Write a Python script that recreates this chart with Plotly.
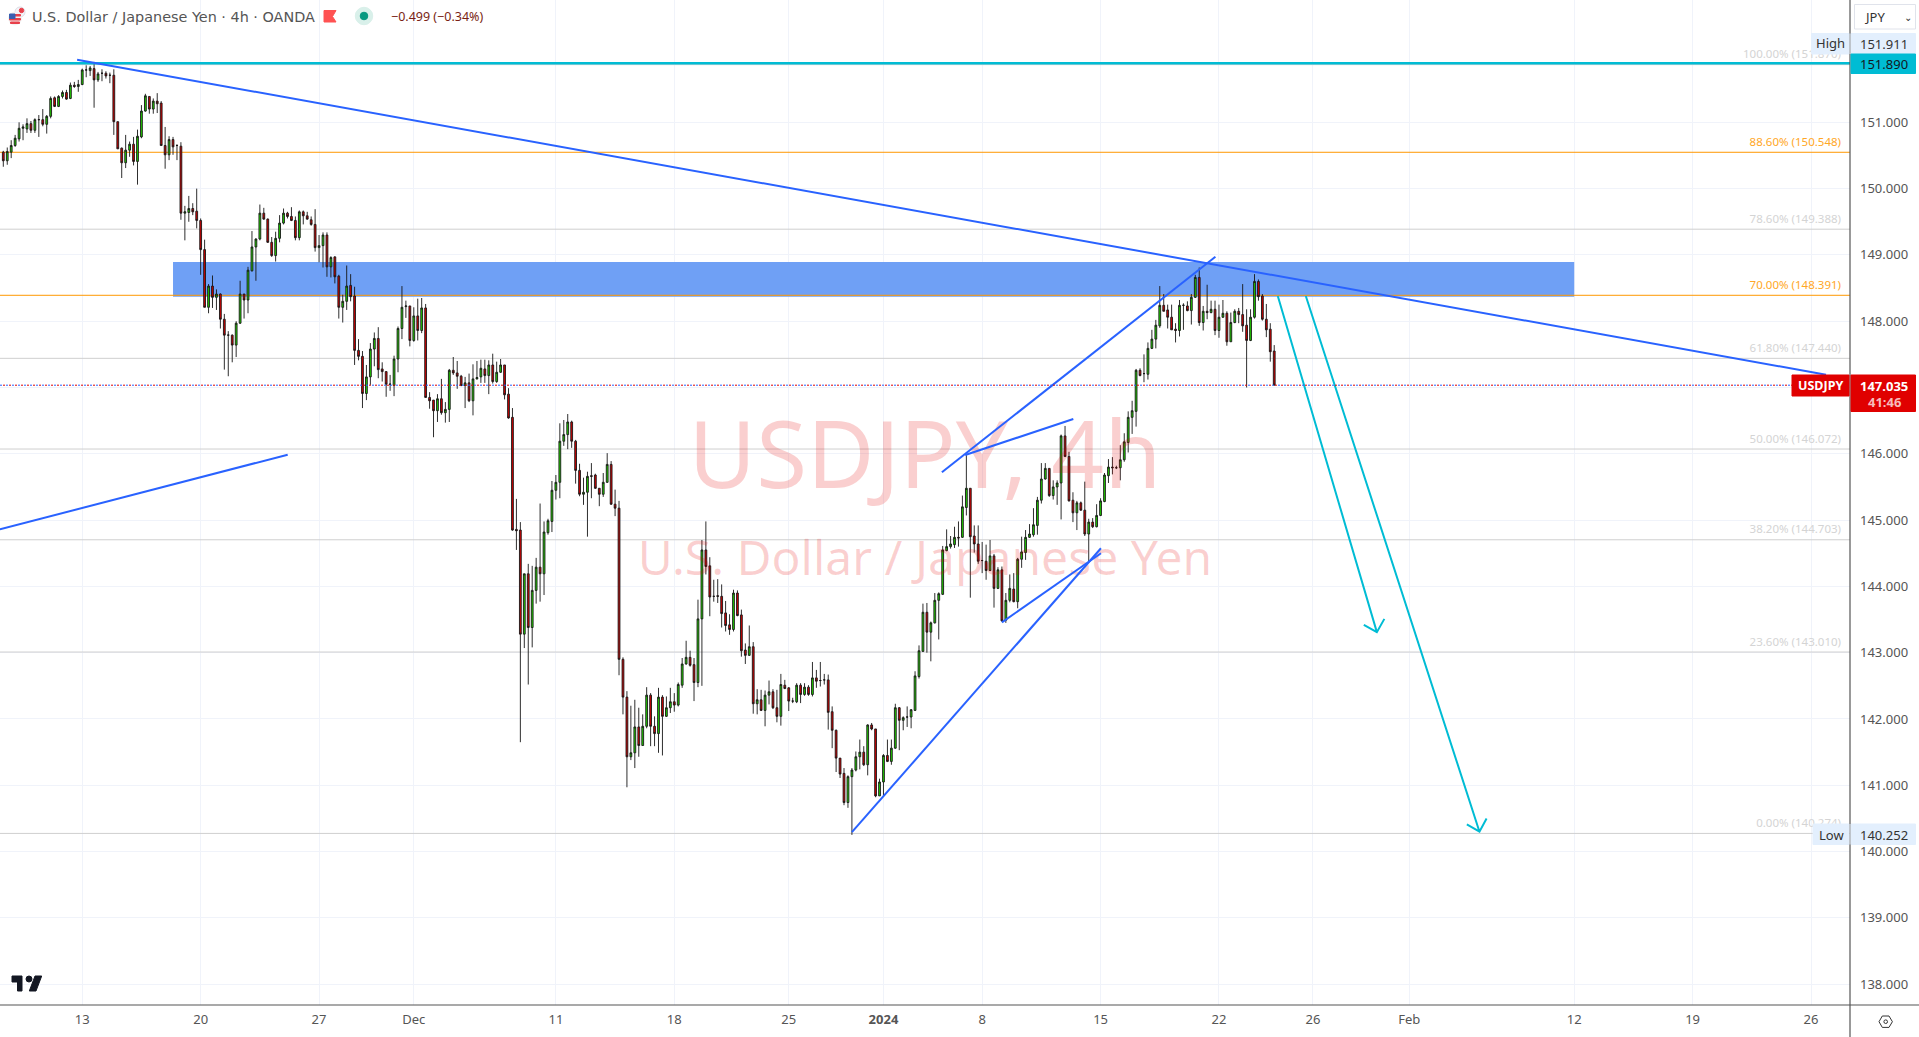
import plotly.graph_objects as go

# ---------- data ----------
open_ = [150.55,150.42,150.55,150.65,150.75,150.91,150.90,150.98,150.88,151.04,151.04,150.97,151.09,151.37,151.24,151.39,151.45,151.36,151.56,151.54,
151.57,151.79,151.78,151.81,151.64,151.74,151.74,151.71,151.71,151.01,150.61,150.39,150.58,150.67,150.41,150.78,151.17,151.39,151.20,151.32,
151.29,150.65,150.51,150.74,150.65,150.64,149.63,149.64,149.70,149.66,149.52,149.08,148.21,148.53,148.36,148.41,148.03,147.79,147.79,147.64,
147.97,148.41,148.32,148.76,149.12,149.24,149.63,149.54,149.19,148.99,149.25,149.48,149.63,149.58,149.52,149.26,149.65,149.59,149.53,149.46,
149.11,149.14,149.30,148.82,148.97,148.68,148.21,148.30,148.54,148.38,147.56,147.47,146.91,147.16,147.58,147.74,147.28,147.24,147.05,147.03,
147.43,147.89,148.22,148.23,147.71,148.08,147.86,148.20,146.85,146.81,146.65,146.83,146.62,146.67,147.26,147.22,147.17,147.03,147.07,146.80,
147.13,147.16,147.28,147.18,147.34,147.09,147.23,147.34,146.90,146.55,144.86,144.85,143.28,144.19,143.38,143.94,144.29,144.19,144.81,144.98,
145.45,145.57,146.19,146.29,146.48,146.19,145.75,145.39,145.42,145.67,145.68,145.48,145.39,145.57,145.84,145.24,145.18,142.90,142.33,141.43,
141.49,141.88,141.60,141.89,142.36,141.89,141.78,142.33,142.04,142.17,142.26,142.21,142.51,142.83,142.93,142.82,142.55,143.51,144.55,144.31,
143.85,143.86,143.85,143.60,143.42,143.35,143.90,143.57,143.04,142.96,143.09,142.23,142.29,142.13,142.36,142.41,142.17,142.04,142.51,142.47,
142.27,142.26,142.51,142.37,142.48,142.37,142.62,142.58,142.59,142.59,142.11,141.83,141.41,141.18,140.74,141.13,141.23,141.43,141.50,141.31,
141.91,141.85,140.84,141.05,141.45,141.36,141.56,142.17,141.98,142.03,142.03,142.13,142.64,143.02,143.61,143.31,143.45,143.79,143.88,144.54,
144.60,144.63,144.74,144.74,145.19,145.48,144.76,144.64,144.39,144.38,144.24,144.46,143.97,144.25,143.49,143.79,143.96,143.77,144.41,144.51,
144.74,144.78,144.92,145.30,145.62,145.78,145.37,145.50,145.56,146.27,145.96,145.30,145.11,145.26,145.15,144.79,144.97,144.90,145.07,145.28,
145.67,145.80,145.79,145.79,145.91,146.17,146.55,146.64,147.26,147.21,147.20,147.59,147.73,147.93,148.24,148.17,148.06,147.88,147.86,148.24,
148.23,148.16,148.36,148.66,147.98,148.15,148.13,148.18,147.86,148.06,148.12,147.69,147.98,148.15,148.10,147.94,147.71,148.06,148.60,148.38,
148.03,147.88,147.55]
high = [150.57,150.62,150.73,150.81,151.00,150.97,151.06,151.02,151.06,151.11,151.20,151.11,151.39,151.39,151.41,151.48,151.49,151.60,151.61,151.64,
151.81,151.86,151.85,151.911,151.76,151.80,151.77,151.75,151.80,151.01,150.62,150.81,150.71,150.78,150.89,151.26,151.43,151.39,151.36,151.44,
151.32,150.93,150.79,150.78,150.67,150.70,149.74,149.89,149.78,150.00,149.55,149.23,148.56,148.69,148.48,148.42,148.11,147.85,147.80,148.00,
148.61,148.41,148.82,149.36,149.25,149.76,149.71,149.55,149.27,149.35,149.60,149.70,149.65,149.72,149.58,149.67,149.67,149.65,149.58,149.69,
149.30,149.34,149.34,148.98,148.98,148.70,148.40,148.84,148.71,148.52,147.73,147.55,147.34,147.67,147.83,147.91,147.38,147.24,147.19,147.48,
147.92,148.53,148.31,148.23,148.21,148.34,148.35,148.26,146.93,146.81,146.90,147.13,146.78,147.28,147.46,147.40,147.19,147.16,147.21,147.35,
147.40,147.42,147.42,147.41,147.51,147.39,147.43,147.34,146.99,146.69,145.32,144.97,144.19,144.34,144.31,144.43,145.25,144.98,145.02,145.59,
145.68,146.46,146.51,146.60,146.50,146.21,145.85,145.64,145.73,145.86,145.70,145.48,145.71,146.01,145.89,145.46,145.29,142.93,142.42,142.20,
142.29,142.17,142.07,142.48,142.39,142.04,142.47,142.36,142.34,142.47,142.39,142.55,142.92,143.18,143.03,142.92,143.80,144.70,144.98,144.44,
144.10,144.11,144.03,143.78,143.58,143.95,143.94,143.65,143.14,143.41,143.16,142.45,142.44,142.43,142.58,142.45,142.44,142.68,142.59,142.48,
142.32,142.54,142.54,142.54,142.51,142.86,142.74,142.86,142.68,142.67,142.19,141.84,141.41,141.26,141.15,141.26,141.51,141.69,141.59,141.92,
141.94,141.85,141.10,141.47,141.69,141.69,142.23,142.18,142.04,142.19,142.15,142.72,143.11,143.74,143.75,143.47,143.90,143.91,144.61,144.86,
144.76,144.90,144.98,145.37,145.98,145.48,144.92,144.92,144.67,144.63,144.70,144.49,144.29,144.30,143.90,144.18,144.20,144.43,144.75,144.85,
144.94,145.18,145.35,145.86,145.86,145.78,145.60,145.60,146.29,146.42,146.03,145.42,145.29,145.28,145.58,145.02,145.03,145.24,145.33,145.71,
145.92,145.95,145.82,146.13,146.31,146.64,146.80,147.28,147.29,147.50,147.68,147.87,148.02,148.53,148.41,148.25,148.25,147.97,148.32,148.27,
148.30,148.41,148.70,148.81,148.23,148.55,148.31,148.31,148.25,148.32,148.15,148.13,148.18,148.20,148.56,148.18,148.18,148.71,148.63,148.41,
148.26,147.97,147.64]
low = [150.33,150.36,150.46,150.63,150.71,150.73,150.84,150.84,150.84,150.78,150.94,150.83,151.06,151.23,151.23,151.36,151.34,151.35,151.52,151.46,
151.56,151.68,151.70,151.22,151.61,151.62,151.66,151.59,150.81,150.60,150.16,150.31,150.48,150.35,150.06,150.76,151.16,151.13,151.13,151.14,
150.65,150.30,150.43,150.51,150.43,149.53,149.22,149.50,149.60,149.40,148.70,148.21,148.12,148.20,148.17,147.89,147.27,147.17,147.38,147.46,
147.96,148.04,148.12,148.75,148.61,149.22,149.53,149.18,148.97,148.90,149.19,149.46,149.55,149.51,149.22,149.22,149.46,149.53,149.44,149.05,
148.89,148.81,148.67,148.66,148.57,148.04,147.98,148.17,148.30,147.34,147.41,146.69,146.81,147.04,147.32,147.14,147.09,146.86,146.95,146.87,
147.23,147.73,148.05,147.62,147.69,147.71,147.82,146.85,146.68,146.25,146.48,146.59,146.47,146.48,147.19,146.98,147.02,146.69,146.78,146.58,
147.12,147.07,147.07,146.90,147.06,147.07,147.22,146.82,146.53,144.84,144.55,141.65,143.07,142.52,143.08,143.74,143.77,143.87,144.78,144.82,
145.31,145.33,146.12,146.07,146.09,145.55,145.36,145.23,144.75,145.33,145.47,145.21,145.35,145.56,145.23,145.06,142.66,142.07,140.97,141.38,
141.26,141.43,141.60,141.86,141.59,141.59,141.49,141.45,142.03,142.09,142.11,142.19,142.47,142.82,142.79,142.27,142.48,142.50,144.18,143.55,
143.77,143.75,143.38,143.32,143.27,143.32,143.55,142.94,142.83,142.95,142.08,142.07,142.12,141.89,142.22,142.15,141.95,141.90,142.45,142.12,
142.24,142.24,142.24,142.35,142.35,142.34,142.47,142.49,142.52,141.84,141.56,141.20,141.11,140.70,140.66,140.252,141.21,141.24,141.29,141.15,
141.83,140.82,140.84,140.83,141.35,141.31,141.55,141.53,141.83,141.88,141.86,142.12,142.61,143.01,143.00,142.87,143.44,143.20,143.87,144.53,
144.57,144.58,144.60,144.73,145.07,143.83,144.51,144.34,144.20,144.10,144.23,143.68,143.96,143.47,143.45,143.76,143.76,143.67,144.28,144.40,
144.73,144.75,144.78,145.25,145.61,145.35,145.31,145.23,145.01,145.95,145.28,144.97,144.85,145.14,144.76,144.38,144.88,144.89,145.06,145.27,
145.56,145.69,145.77,145.60,145.88,146.02,146.30,146.41,147.17,147.08,147.12,147.58,147.59,147.90,148.15,147.89,147.87,147.68,147.77,147.87,
148.15,147.95,148.35,147.93,147.86,148.03,148.12,147.79,147.75,148.05,147.63,147.69,147.97,147.97,147.84,147.00,147.70,148.04,148.31,148.01,
147.76,147.39,147.035]
close = [150.42,150.56,150.65,150.76,150.91,150.93,150.98,150.88,151.04,151.04,150.97,151.09,151.36,151.24,151.39,151.45,151.35,151.56,151.54,151.57,
151.79,151.79,151.82,151.64,151.73,151.74,151.70,151.71,151.01,150.60,150.39,150.58,150.67,150.41,150.79,151.17,151.40,151.20,151.32,151.28,
150.65,150.51,150.74,150.63,150.65,149.63,149.65,149.70,149.65,149.52,149.08,148.21,148.53,148.36,148.41,148.03,147.79,147.79,147.64,147.97,
148.41,148.32,148.77,149.12,149.24,149.63,149.54,149.19,148.99,149.25,149.48,149.63,149.58,149.52,149.26,149.65,149.59,149.54,149.46,149.11,
149.14,149.30,148.82,148.96,148.67,148.21,148.30,148.53,148.37,147.56,147.47,146.91,147.16,147.58,147.74,147.27,147.24,147.05,147.05,147.43,
147.89,148.21,148.23,147.71,148.08,147.86,148.20,146.85,146.80,146.65,146.83,146.62,146.67,147.26,147.22,147.17,147.03,147.07,146.80,147.13,
147.15,147.29,147.18,147.34,147.09,147.23,147.34,146.89,146.54,144.85,144.84,143.28,144.19,143.38,143.94,144.29,144.19,144.82,144.99,145.45,
145.57,146.19,146.29,146.48,146.19,145.75,145.39,145.42,145.66,145.66,145.48,145.39,145.57,145.84,145.24,145.18,142.90,142.33,141.43,141.49,
141.88,141.60,141.89,142.36,141.89,141.78,142.33,142.04,142.17,142.26,142.21,142.52,142.83,142.93,142.81,142.55,143.51,144.55,144.30,143.84,
143.85,143.85,143.59,143.41,143.35,143.90,143.56,143.03,142.96,143.09,142.23,142.29,142.13,142.36,142.41,142.17,142.04,142.52,142.46,142.27,
142.27,142.51,142.37,142.48,142.37,142.62,142.57,142.58,142.59,142.10,141.83,141.41,141.17,140.74,141.13,141.23,141.43,141.50,141.31,141.91,
141.85,140.84,141.05,141.45,141.36,141.56,142.17,141.98,142.02,142.03,142.14,142.65,143.03,143.61,143.31,143.45,143.79,143.89,144.55,144.60,
144.64,144.74,144.73,145.20,145.48,144.75,144.64,144.38,144.39,144.24,144.46,143.97,144.25,143.48,143.79,143.97,143.77,144.41,144.52,144.74,
144.79,144.93,145.30,145.62,145.78,145.37,145.50,145.56,146.27,145.96,145.29,145.11,145.26,145.15,144.79,144.97,144.90,145.07,145.29,145.68,
145.80,145.79,145.79,145.91,146.18,146.55,146.65,147.26,147.18,147.21,147.59,147.73,147.94,148.24,148.15,148.06,147.87,147.86,148.24,148.24,
148.16,148.36,148.66,147.98,148.15,148.13,148.18,147.86,148.06,148.12,147.69,147.98,148.15,148.10,147.93,147.71,148.06,148.60,148.37,148.03,
147.87,147.54,147.035]

y_ticks = [138,139,140,141,142,143,144,145,146,147,148,149,150,151]
x_tick_bars = [20,50,80,104,140,170,199,223,248,278,308,331.8,356.2,398,428,458]
x_tick_text = ["13","20","27","Dec","11","18","25","<b>2024</b>","8","15","22","26","Feb","12","19","26"]

fib_levels = [151.870,150.548,149.388,148.391,147.440,146.072,144.703,143.010,140.274]
fib_pcts = ["100.00%","88.60%","78.60%","70.00%","61.80%","50.00%","38.20%","23.60%","0.00%"]

teal_level = 151.890
last_price = 147.035
zone_bars = [43.0, 398.0]
zone_prices = [148.37, 148.893]

trend_bars = [[18.7,461.8],[-0.84,72.05],[237.8,307.1],[243.7,271.1],[253.0,278.1],[215.0,278.1]]
trend_prices = [[151.944,147.193],[144.861,145.987],[145.721,148.973],[145.982,146.525],[143.458,144.5],[140.293,144.575]]
arrow_bars = [[322.9,348.0,344.7,348.0,349.9],[330.0,374.0,370.8,374.0,375.8]]
arrow_prices = [[148.38,143.31,143.42,143.31,143.51],[148.38,140.30,140.41,140.30,140.50]]

# ---------- layout constants ----------
W, H = 1919, 1037
PW, PH = 1850, 1005
BAR_PX = 3.947
X0_PX = 3.3
BLUE = "#2962ff"
TEAL = "#00bcd4"
FONT = "Noto Sans"
HEADER_FONT = "DejaVu Sans"
WM = "rgba(230,0,0,0.19)"
FIB_LABEL_LIFT = 0.055

def px(x): return x / PW
def py(y): return 1 - y / PH
def bar_at(x): return (x - X0_PX) / BAR_PX

def label(x, y, text, color="#555", size=13, xanchor="center", bold=False, family=FONT):
    return dict(xref="paper", yref="paper", x=px(x), y=py(y), text=f"<b>{text}</b>" if bold else text,
                showarrow=False, xanchor=xanchor, yanchor="middle", borderpad=0,
                font=dict(family=family, size=size, color=color))

def box(x0, y0, x1, y1, fill, line=None):
    return dict(type="rect", xref="paper", yref="paper", x0=px(x0), x1=px(x1), y0=py(y0), y1=py(y1),
                fillcolor=fill, line=dict(color=line or fill, width=1), layer="above")

def path_shape(points, fill, line=None):
    d = "M " + " L ".join(f"{px(a)},{py(b)}" for a, b in points) + " Z"
    return dict(type="path", xref="paper", yref="paper", path=d, fillcolor=fill,
                line=dict(color=line or fill, width=1), layer="above")

def circle(cx, cy, r, fill, line=None, width=1):
    return dict(type="circle", xref="paper", yref="paper", x0=px(cx-r), x1=px(cx+r), y0=py(cy+r), y1=py(cy-r),
                fillcolor=fill, line=dict(color=line or fill, width=width), layer="above")

fig = go.Figure()
n = len(close)
bars = list(range(n))
xr = [bar_at(0), bar_at(PW)]

fig.add_trace(go.Candlestick(x=bars, open=open_, high=high, low=low, close=close,
                             whiskerwidth=0, showlegend=False,
                             increasing=dict(line=dict(color="#161616", width=0.9), fillcolor="#22d400"),
                             decreasing=dict(line=dict(color="#161616", width=0.9), fillcolor="#d40000")))

fig.add_trace(go.Scatter(x=[bar_at(925)], y=[145.83], mode="text", text=["USDJPY, 4h"], textposition="middle center",
                         textfont=dict(family=FONT, size=92.5, color=WM), hoverinfo="skip", showlegend=False))
fig.add_trace(go.Scatter(x=[bar_at(925)], y=[144.35], mode="text", text=["U.S. Dollar / Japanese Yen"], textposition="middle center",
                         textfont=dict(family=FONT, size=48, color=WM), hoverinfo="skip", showlegend=False))

for lvl, pct in zip(fib_levels, fib_pcts):
    orange = pct in ("88.60%", "70.00%")
    fig.add_trace(go.Scatter(x=[bar_at(1841)], y=[lvl + FIB_LABEL_LIFT], mode="text", text=[f"{pct} ({lvl:.3f})"],
                             textposition="top left", hoverinfo="skip", showlegend=False,
                             textfont=dict(family=FONT, size=11.5, color="#ffa726" if orange else "#d4d4d4")))

fig.add_trace(go.Scatter(x=xr, y=[teal_level]*2, mode="lines", hoverinfo="skip", showlegend=False,
                         line=dict(color=TEAL, width=2.6)))
for bx, pr in zip(trend_bars, trend_prices):
    fig.add_trace(go.Scatter(x=bx, y=pr, mode="lines", hoverinfo="skip", showlegend=False,
                             line=dict(color=BLUE, width=2)))
for bx, pr in zip(arrow_bars, arrow_prices):
    fig.add_trace(go.Scatter(x=bx, y=pr, mode="lines", hoverinfo="skip", showlegend=False,
                             line=dict(color=TEAL, width=2)))

shapes = [
    # blue zone and fib levels between the grid and the candles
    dict(type="rect", xref="x", yref="y", x0=zone_bars[0], x1=zone_bars[1], y0=zone_prices[0], y1=zone_prices[1],
         fillcolor="#6fa0f5", line=dict(width=0), layer="between"),
]
for lvl, pct in zip(fib_levels, fib_pcts):
    orange = pct in ("88.60%", "70.00%")
    shapes.append(dict(type="line", xref="x", yref="y", x0=xr[0], x1=xr[1], y0=lvl, y1=lvl,
                       line=dict(color="#ff9800" if orange else "#cfcfcf", width=1), layer="between"))

shapes += [
    # current price dotted line: alternating blue and red dots
    dict(type="line", xref="x", yref="y", x0=xr[0], x1=bar_at(1792), y0=last_price, y1=last_price,
         line=dict(color=BLUE, width=1, dash="2px,4px"), layer="above"),
    dict(type="line", xref="x", yref="y", x0=bar_at(3), x1=bar_at(1792), y0=last_price, y1=last_price,
         line=dict(color="#e00000", width=1, dash="2px,4px"), layer="above"),
    # axis frame
    dict(type="line", xref="paper", yref="paper", x0=px(1850), x1=px(1850), y0=py(0), y1=py(H),
         line=dict(color="#555", width=1.2), layer="above"),
    dict(type="line", xref="paper", yref="paper", x0=px(0), x1=px(W), y0=py(1005), y1=py(1005),
         line=dict(color="#555", width=1.2), layer="above"),
    # value tags
    box(1811.5, 33.5, 1849, 54, "#e3effd"),
    box(1851, 33.5, 1915.5, 54, "#e3effd"),
    box(1851, 54, 1915.5, 73.5, TEAL),
    box(1813, 824, 1849, 844.5, "#e3effd"),
    box(1851, 824, 1915.5, 844.5, "#e3effd"),
    box(1792, 375, 1849, 396, "#e00000"),
    box(1851, 375, 1915.5, 411.5, "#e00000"),
    # currency selector
    box(1854.5, 4.5, 1915.5, 29, "#ffffff", "#e0e3eb"),
    # logo
    path_shape([(12,976),(22,976),(22,991),(17.5,991),(17.5,982),(12,982)], "#131722"),
    circle(29, 979, 3, "#131722"),
    path_shape([(35,976),(41.7,976),(36,991),(29.3,991)], "#131722"),
    # settings icon
    path_shape([(1879,1021.7),(1882.3,1016),(1889,1016),(1892.4,1021.7),(1889,1027.4),(1882.3,1027.4)], "rgba(0,0,0,0)", "#333"),
    circle(1885.7, 1021.7, 1.8, "rgba(0,0,0,0)", "#333"),
    # header icons
    circle(20, 12, 5, "#f4f4f8", "#dddde6"),
    circle(21.5, 10.5, 2.2, "#e8404a"),
    circle(15, 18.5, 6.4, "#f2f2f2", "#f2f2f2"),
    box(9.5, 14.5, 20.5, 16, "#e8404a"),
    box(9.5, 18.5, 20.5, 20, "#e8404a"),
    box(10.5, 22, 19.5, 23.5, "#e8404a"),
    box(9.5, 14, 15, 18.5, "#3a5fb0"),
    path_shape([(324,10.5),(336,10.5),(332.5,16.5),(336,22),(324,22)], "#ff5252"),
    circle(364, 16, 8.7, "#d9f0ea"),
    circle(364, 16, 3.8, "#089981"),
]

annotations = [
    label(1874, 16.5, "JPY", "#333", 13),
    label(1908, 16.5, "⌄", "#333", 10),
    label(31, 16.5, "U.S. Dollar / Japanese Yen · 4h · OANDA", "#555", 14.4, "left", family=HEADER_FONT),
    label(390, 16.5, "−0.499 (−0.34%)", "#7a1f14", 12.5, "left"),
    label(1830, 43, "High", "#333"),
    label(1884.5, 44.3, "151.911", "#333"),
    label(1884.5, 64, "151.890", "#131722"),
    label(1831, 835, "Low", "#333"),
    label(1884.5, 835, "140.252", "#333"),
    label(1820.5, 385.5, "USDJPY", "#ffffff", 12.5, bold=True),
    label(1884.5, 386, "147.035", "#ffffff", 13, bold=True),
    label(1884.5, 402, "41:46", "#f6bcbc", 13, bold=True),
]

fig.update_layout(
    width=W, height=H, margin=dict(l=0, r=W-PW, t=0, b=H-PH, pad=0),
    paper_bgcolor="#ffffff", plot_bgcolor="#ffffff", showlegend=False,
    font=dict(family=FONT, size=13, color="#555"),
    shapes=shapes, annotations=annotations, boxgap=0.35,
    xaxis=dict(range=xr, tickmode="array", tickvals=x_tick_bars, ticktext=x_tick_text,
               showgrid=True, gridcolor="#f0f3fa", gridwidth=1, zeroline=False,
               rangeslider=dict(visible=False), ticks="", ticklabelstandoff=5,
               tickfont=dict(family=FONT, size=13, color="#555"), fixedrange=True),
    yaxis=dict(range=[137.686, 152.845], side="right", tickmode="array", tickvals=y_ticks,
               tickformat=".3f", showgrid=True, gridcolor="#f0f3fa", gridwidth=1, zeroline=False,
               ticks="", ticklabelstandoff=9, tickfont=dict(family=FONT, size=13, color="#555"), fixedrange=True),
)

fig.write_html("out.html", config=dict(displayModeBar=False),
               post_script="document.body.style.margin='0';document.body.style.overflow='hidden';")
